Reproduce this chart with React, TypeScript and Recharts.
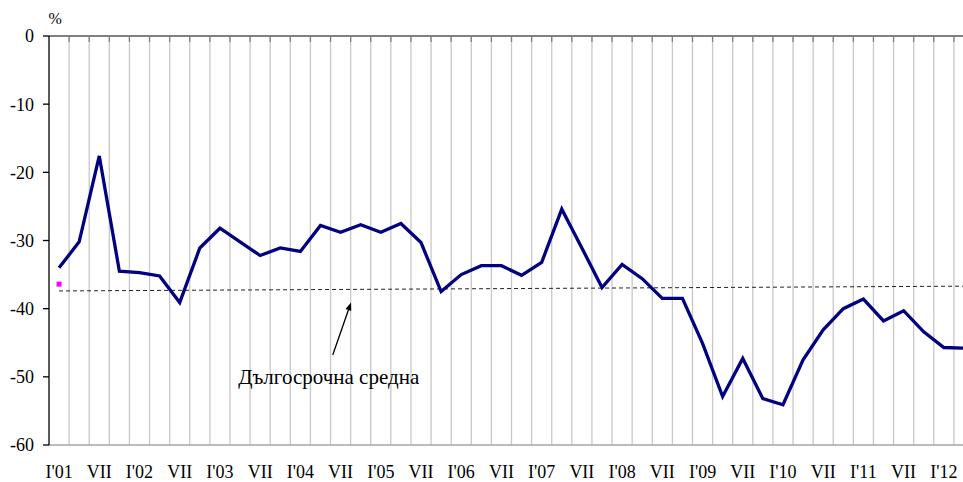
import {
  ComposedChart,
  Line,
  XAxis,
  YAxis,
  ReferenceLine,
  ReferenceDot,
} from "recharts";

// quarters 2001 Q1 .. 2012 Q2, only I and VII get a label
const quarterLabels = [
  "I'01", "", "VII", "",
  "I'02", "", "VII", "",
  "I'03", "", "VII", "",
  "I'04", "", "VII", "",
  "I'05", "", "VII", "",
  "I'06", "", "VII", "",
  "I'07", "", "VII", "",
  "I'08", "", "VII", "",
  "I'09", "", "VII", "",
  "I'10", "", "VII", "",
  "I'11", "", "VII", "",
  "I'12", "",
];

const balance = [
  -34.0, -30.2, -17.6, -34.5, -34.7, -35.2, -39.1, -31.1, -28.2, -30.2,
  -32.2, -31.1, -31.6, -27.8, -28.8, -27.7, -28.8, -27.5, -30.3, -37.5,
  -35.0, -33.7, -33.7, -35.1, -33.2, -25.4, -31.1, -36.9, -33.5, -35.6,
  -38.5, -38.5, -45.1, -52.9, -47.3, -53.2, -54.1, -47.5, -43.1, -40.0,
  -38.6, -41.8, -40.3, -43.4, -45.7, -45.8,
];

// long-term average (start / end of the dashed line)
const longTermAvg = [-37.4, -36.7];
// single magenta point at the first quarter
const startMarker = [-36.4];

const yTicks = [-60, -50, -40, -30, -20, -10, 0];

const data = balance.map((v, i) => ({ i, label: quarterLabels[i], value: v }));
const markerData = startMarker.map((v, i) => ({ i, v }));
const labelTicks = data.filter((d) => d.label).map((d) => d.i);
// vertical grid lines sit on the boundaries between quarters
const boundaries = data.map((d) => d.i + 0.5);
const domainX: [number, number] = [-0.5, balance.length - 0.5];

const FONT = "'Times New Roman', 'Liberation Serif', serif";

const Arrow = (p: any) => {
  const { x1, y1, x2, y2 } = p;
  const a = Math.atan2(y2 - y1, x2 - x1);
  const len = 8;
  const w = 3;
  const bx = x2 - len * Math.cos(a);
  const by = y2 - len * Math.sin(a);
  const pts = `${x2},${y2} ${bx + w * Math.sin(a)},${by - w * Math.cos(a)} ${bx - w * Math.sin(a)},${by + w * Math.cos(a)}`;
  return (
    <g>
      <line x1={x1} y1={y1} x2={bx} y2={by} stroke="#000" strokeWidth={1.3} />
      <polygon points={pts} fill="#000" />
    </g>
  );
};

const SquareDot = (p: any) => (
  <rect key="sq" x={p.cx - 2.5} y={p.cy - 2.5} width={5} height={5} fill="#ff00ff" />
);

export default function App() {
  return (
    <div
      style={{
        position: "absolute",
        left: 0,
        top: 0,
        width: 963,
        height: 482,
        overflow: "hidden",
        background: "#fff",
      }}
    >
      <ComposedChart
        width={974}
        height={482}
        data={data}
        margin={{ top: 36, right: 0, bottom: 0, left: 0 }}
        style={{ fontFamily: FONT }}
      >
        <XAxis
          dataKey="i"
          type="number"
          domain={domainX}
          allowDataOverflow
          ticks={labelTicks}
          interval={0}
          height={37}
          tickSize={0}
          tickMargin={20}
          tickLine={false}
          axisLine={{ stroke: "#a6a6a6", strokeWidth: 1.5 }}
          tickFormatter={(v: number) => quarterLabels[v] ?? ""}
          tick={{ fontSize: 18, fill: "#000", fontFamily: FONT }}
        />
        <YAxis
          type="number"
          domain={[-60, 0]}
          ticks={yTicks}
          interval={0}
          width={49}
          tickSize={6}
          tickMargin={9}
          axisLine={{ stroke: "#000", strokeWidth: 1.3 }}
          tickLine={{ stroke: "#000", strokeWidth: 1.3 }}
          tick={{ fontSize: 18, fill: "#000", fontFamily: FONT }}
        />
        {boundaries.map((b) => (
          <ReferenceLine
            key={`g${b}`}
            x={b}
            stroke="#c8c8c8"
            strokeWidth={1.3}
          />
        ))}
        <ReferenceLine y={0} stroke="#808080" strokeWidth={2} />
        {boundaries.map((b) => (
          <ReferenceLine
            key={`t${b}`}
            segment={[
              { x: b, y: 0 },
              { x: b, y: -0.88 },
            ]}
            stroke="#808080"
            strokeWidth={1.3}
          />
        ))}
        <ReferenceLine
          segment={[
            { x: 0, y: longTermAvg[0] },
            { x: balance.length - 1, y: longTermAvg[1] },
          ]}
          stroke="#222"
          strokeWidth={1}
          strokeDasharray="4 3"
        />
        <ReferenceLine
          segment={[
            { x: 13.61, y: -46.8 },
            { x: 14.52, y: -39.1 },
          ]}
          shape={Arrow}
        />
        <ReferenceDot
          x={13.41}
          y={-50.0}
          r={0}
          fill="none"
          stroke="none"
          label={{
            value: "Дългосрочна средна",
            position: "center",
            fontSize: 21,
            fill: "#000",
            fontFamily: FONT,
          }}
        />
        <ReferenceDot
          x={-0.19}
          y={2.6}
          r={0}
          fill="none"
          stroke="none"
          ifOverflow="visible"
          label={{
            value: "%",
            position: "center",
            fontSize: 16,
            fill: "#000",
            fontFamily: FONT,
          }}
        />
        <Line
          type="linear"
          dataKey="value"
          stroke="#000080"
          strokeWidth={3.3}
          dot={false}
          activeDot={false}
          isAnimationActive={false}
        />
        <Line
          data={markerData}
          dataKey="v"
          stroke="none"
          dot={SquareDot}
          activeDot={false}
          isAnimationActive={false}
        />
      </ComposedChart>
    </div>
  );
}
